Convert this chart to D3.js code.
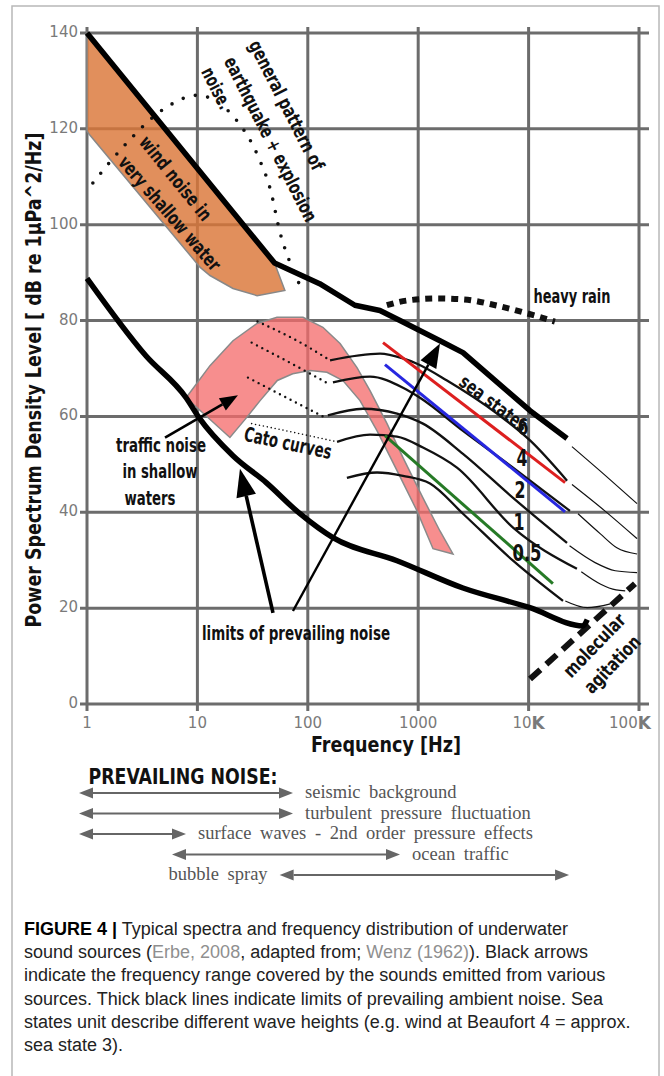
<!DOCTYPE html>
<html>
<head>
<meta charset="utf-8">
<script src="https://cdn.jsdelivr.net/npm/d3@7"></script>
<style>
body { margin: 0; background: #fff; }
svg { display: block; }
.ann { font-family: "DejaVu Sans Condensed", "DejaVu Sans", sans-serif; font-stretch: condensed; font-weight: bold; fill: #111; }
.tick { font-family: "DejaVu Sans", sans-serif; font-size: 15px; fill: #7a7a7a; }
.serif { font-family: "Liberation Serif", "DejaVu Serif", serif; font-size: 18.5px; fill: #555; word-spacing: 4px; }
.cap { font-family: "Liberation Sans", Arial, sans-serif; font-size: 18px; fill: #222; }
</style>
</head>
<body>
<svg></svg>
<script>
// frequency in Hz, level in dB re 1uPa^2/Hz
var xTicks = [1, 10, 100, 1000, 1e4, 1e5]
var xTickLabels = ["1", "10", "100", "1000", "10", "100"]
var yTicks = [0, 20, 40, 60, 80, 100, 120, 140]

// thick limits of prevailing noise
var upperLimit = [[1, 140], [50, 92], [128, 87.7], [267, 83.2], [450, 82.1], [684, 80], [1574, 75.8], [2545, 73.3], [10300, 61.2], [22300, 55.4]]
var lowerLimit = [[1, 88.8], [3.4, 72.7], [7.9, 63.9], [10.3, 59.8], [21, 51.8], [42, 46.2], [85, 39.7], [169, 34.7], [643, 29.9], [2545, 24.2], [10300, 20.1], [31100, 16.3], [34000, 17.6]]

// shaded areas
var windShallow = [[1, 140], [50, 92], [62, 86.3], [34.7, 85.2], [21, 86.7], [13, 89.4], [10.6, 91.1], [1.06, 118.7], [1, 119.5]]
var trafficShallow = [[7.9, 63.9], [13, 70.6], [21, 75.8], [34.7, 79.4], [52.6, 80.7], [90.5, 80.7], [137, 78.6], [196, 75.2], [279, 70.2], [366, 65.4], [522, 58.5], [728, 51.4], [1104, 43], [1574, 36.1], [2066, 31.3], [1362, 32.4], [975, 40.3], [643, 48.7], [424, 57], [297, 63.3], [208, 67.5], [149, 69.2], [105, 69.6], [73, 68.9], [53, 67.5], [37, 63.3], [28, 59.8], [19.7, 55.6]]

// other sources
var quakeNoise = [[1.13, 108.7], [2.12, 116.2], [5.4, 124.7], [9.9, 127], [21.9, 122.2], [36, 113.9], [46, 107.2], [56, 98.4], [69, 92.1], [88.5, 86.5]]
var heavyRain = [[520, 83.2], [800, 84.2], [1500, 84.6], [2600, 84.4], [5000, 83.2], [9700, 81.5], [17300, 79.8]]
var molecular = [[10300, 5.2], [92000, 25.1]]

// sea state curves 6, 4, 2, 1, 0.5
var seaStateLabels = ["6", "4", "2", "1", "0.5"]
var seaStates = [
  [[159, 71.7], [451, 73.1], [728, 72.1], [975, 71], [1823, 67.5], [5170, 60.6], [10300, 55], [22300, 46.6]],
  [[169, 67.1], [366, 68.3], [728, 66], [1038, 63.9], [2545, 57], [7230, 49.3], [23700, 40.3]],
  [[152, 60.2], [316, 61.6], [643, 60.6], [1104, 58.5], [2545, 52.2], [7230, 43], [22300, 33.6]],
  [[184, 54.7], [366, 56.2], [643, 55.8], [1104, 53.5], [2245, 49.3], [7230, 36.8], [27400, 28.2]],
  [[226, 47.2], [424, 48.3], [728, 47.6], [1280, 46], [2545, 39.7], [7230, 29.9], [20500, 21.5]]
]
var catoCurves = [
  [[35, 79.8], [80, 75.8], [159, 71.7]],
  [[31, 75.4], [69, 71.2], [152, 66.9]],
  [[28.7, 68.1], [62, 64.1], [137, 60]],
  [[31, 58.5], [77, 56.6], [184, 54.7]]
]
var highFreqTails = [
  [[24700, 53.7], [50000, 47.6], [96000, 41.8]],
  [[24700, 45.8], [49000, 40.3], [96000, 34.5]],
  [[28000, 39.7], [44700, 35.5], [63000, 32.6], [96000, 31.3]],
  [[23500, 33], [40000, 29.5], [61000, 27.8], [96000, 27.4]],
  [[30000, 27.6], [45000, 25], [62000, 23.8], [75000, 23.6]],
  [[21500, 21.5], [34000, 20.1], [55000, 20.9]]
]
var redLine = [[480, 75.4], [21400, 46.2]]
var blueLine = [[500, 70.8], [21400, 40.1]]
var greenLine = [[500, 56], [16600, 25.1]]

// black pointer arrows [from, to]
var pointerArrows = [
  [[5.09, 55.6], [23.3, 64.4]],
  [[48.4, 19], [24.3, 49.1]],
  [[73.4, 19.4], [1575, 75.2]]
]

// prevailing noise frequency ranges
var noiseNames = ["seismic background", "turbulent pressure fluctuation", "surface waves - 2nd order pressure effects", "ocean traffic", "bubble spray"]
var noiseRanges = [[1, 100], [1, 100], [1, 10], [7.4, 1000], [75, 38000]]

var captionLines = [
  [["FIGURE 4 |", "b"], [" Typical spectra and frequency distribution of underwater", ""]],
  [["sound sources (", ""], ["Erbe, 2008", "g"], [", adapted from; ", ""], ["Wenz (1962)", "g"], ["). Black arrows", ""]],
  [["indicate the frequency range covered by the sounds emitted from various", ""]],
  [["sources. Thick black lines indicate limits of prevailing ambient noise. Sea", ""]],
  [["states unit describe different wave heights (e.g. wind at Beaufort 4 = approx.", ""]],
  [["sea state 3).", ""]]
]

var W = 664, H = 1076
var svg = d3.select("svg").attr("width", W).attr("height", H)

var x = d3.scaleLog().domain([1, 1e5]).range([87, 639])
var y = d3.scaleLinear().domain([0, 140]).range([704, 33])
var xb = d3.scaleLog().domain([1, 1e5]).range([79, 614])
var rowY = d3.scalePoint().domain(noiseNames).range([793, 875])

var straightPath = d3.line().x(d => x(d[0])).y(d => y(d[1]))
var smoothPath = d3.line().x(d => x(d[0])).y(d => y(d[1])).curve(d3.curveMonotoneX)
var areaPath = d3.line().x(d => x(d[0])).y(d => y(d[1])).curve(d3.curveLinearClosed)

// figure frame
svg.append("rect").attr("x", 12).attr("y", 6).attr("width", 647).attr("height", 1100)
  .attr("fill", "none").attr("stroke", "#b8b8b8").attr("stroke-width", 1.5)

// grid (doubles as the axes)
var grid = svg.append("g").attr("stroke", "#6c6c6c").attr("stroke-width", 3)
grid.selectAll(".h").data(yTicks).enter().append("line")
  .attr("x1", 80).attr("x2", 649)
  .attr("y1", d => y(d)).attr("y2", d => y(d))
grid.selectAll(".v").data(xTicks).enter().append("line")
  .attr("y1", 27).attr("y2", 711)
  .attr("x1", d => x(d)).attr("x2", d => x(d))

svg.append("g").selectAll("text").data(yTicks).enter().append("text")
  .attr("class", "tick").attr("text-anchor", "end").attr("dominant-baseline", "central")
  .attr("x", 78).attr("y", d => y(d) - 1).text(d => d)

var xl = svg.append("g").selectAll("text").data(xTicks).enter().append("text")
  .attr("class", "tick").attr("text-anchor", "middle").attr("dominant-baseline", "central")
  .attr("x", d => x(d) - (d === 1e5 ? 9 : 0)).attr("y", 723)
xl.append("tspan").text((d, i) => xTickLabels[i])
xl.filter(d => d >= 1e4).append("tspan").attr("font-weight", "bold").attr("font-size", 17).text("K")

// shaded regions
svg.append("path").attr("d", areaPath(windShallow))
  .attr("fill", "#db7638").attr("fill-opacity", 0.82).attr("stroke", "#888").attr("stroke-width", 1.5)
svg.append("path").attr("d", areaPath(trafficShallow))
  .attr("fill", "#f46a6a").attr("fill-opacity", 0.76).attr("stroke", "#8a8a8a").attr("stroke-width", 1.5)

// dotted sources
svg.append("path").attr("d", smoothPath(quakeNoise)).attr("fill", "none")
  .attr("stroke", "#111").attr("stroke-width", 3.6).attr("stroke-linecap", "round").attr("stroke-dasharray", "0,12.5")
svg.append("path").attr("d", smoothPath(heavyRain)).attr("fill", "none")
  .attr("stroke", "#111").attr("stroke-width", 6).attr("stroke-dasharray", "7,6")
svg.append("path").attr("d", straightPath(molecular)).attr("fill", "none")
  .attr("stroke", "#111").attr("stroke-width", 6).attr("stroke-dasharray", "14,8")

svg.append("g").selectAll("path").data(catoCurves).enter().append("path")
  .attr("d", smoothPath).attr("fill", "none").attr("stroke", "#111")
  .attr("stroke-width", (d, i) => i < 3 ? 2.4 : 1.6).attr("stroke-linecap", "round")
  .attr("stroke-dasharray", (d, i) => i < 3 ? "0,6" : "0,4")

// sea state curves and their thin high frequency tails
svg.append("g").selectAll("path").data(seaStates).enter().append("path")
  .attr("d", smoothPath).attr("fill", "none").attr("stroke", "#111").attr("stroke-width", 2.3)
svg.append("g").selectAll("path").data(highFreqTails).enter().append("path")
  .attr("d", smoothPath).attr("fill", "none").attr("stroke", "#111").attr("stroke-width", 1.2)

svg.append("path").attr("d", straightPath(redLine)).attr("stroke", "#dd1f1f").attr("stroke-width", 3)
svg.append("path").attr("d", straightPath(blueLine)).attr("stroke", "#2727e0").attr("stroke-width", 3)
svg.append("path").attr("d", straightPath(greenLine)).attr("stroke", "#267a26").attr("stroke-width", 3)

// limits of prevailing noise
svg.append("path").attr("d", straightPath(upperLimit)).attr("fill", "none")
  .attr("stroke", "#000").attr("stroke-width", 5.5).attr("stroke-linejoin", "round")
svg.append("path").attr("d", smoothPath(lowerLimit)).attr("fill", "none")
  .attr("stroke", "#000").attr("stroke-width", 5.5).attr("stroke-linejoin", "round")

// arrows
function head(p0, p1, len, hw) {
  var dx = p1[0] - p0[0], dy = p1[1] - p0[1], l = Math.hypot(dx, dy)
  var ux = dx / l, uy = dy / l
  var bx = p1[0] - ux * len, by = p1[1] - uy * len
  return { base: [bx, by], d: "M" + p1 + "L" + [bx - uy * hw, by + ux * hw] + "L" + [bx + uy * hw, by - ux * hw] + "Z" }
}
var arrowStyle = [[2.6, 18, 7], [3.6, 28, 10], [2.4, 24, 9]]
pointerArrows.forEach(function (a, i) {
  var p0 = [x(a[0][0]), y(a[0][1])], p1 = [x(a[1][0]), y(a[1][1])]
  var h = head(p0, p1, arrowStyle[i][1], arrowStyle[i][2])
  svg.append("line").attr("x1", p0[0]).attr("y1", p0[1]).attr("x2", h.base[0]).attr("y2", h.base[1])
    .attr("stroke", "#000").attr("stroke-width", arrowStyle[i][0])
  svg.append("path").attr("d", h.d).attr("fill", "#000")
})

// annotations
function ann(t, cx, cy, rot, size, len) {
  var e = svg.append("text").attr("class", "ann")
    .attr("transform", "translate(" + cx + "," + cy + ") rotate(" + rot + ")")
    .attr("text-anchor", "middle").attr("dominant-baseline", "central")
    .attr("font-size", size).text(t)
  if (len) e.attr("textLength", len).attr("lengthAdjust", "spacingAndGlyphs")
  return e
}
ann("wind noise in", 176, 178, 51, 19, 103)
ann("very shallow water", 170, 213, 49, 19, 145)
ann("general pattern of", 287, 105, 63, 19, 143)
ann("earthquake + explosion", 271, 139, 63, 19, 182)
ann("noise.", 217, 88, 63, 19, 44)
ann("heavy rain", 572, 296, 0, 19, 77)
ann("traffic noise", 161, 445, 0, 19, 90)
ann("in shallow", 160, 471, 0, 19, 75)
ann("waters", 150, 498, 0, 19, 51)
ann("Cato curves", 288, 443, 12, 20, 89)
ann("limits of prevailing noise", 296, 633, 0, 20, 188)
ann("sea states", 494, 403, 37, 19, 80)
ann("molecular", 594, 645, -46, 19, 80)
ann("agitation", 612, 664, -46, 19, 72)
var labelPos = [[523, 427], [522, 458], [520, 490], [519, 522], [527, 553]]
seaStateLabels.forEach(function (s, i) {
  ann(s, labelPos[i][0], labelPos[i][1], 0, 23, s.length > 1 ? 29 : 11).attr("fill", "#000")
})

// axis titles
ann("Power Spectrum Density Level [ dB re 1\u00b5Pa^2/Hz]", 33, 380, -90, 22, 495).attr("fill", "#000")
ann("Frequency [Hz]", 386, 744, 0, 22, 150).attr("fill", "#000")

// prevailing noise panel
ann("PREVAILING NOISE:", 183, 776, 0, 22, 189).attr("fill", "#6b6b6b")
var rows = svg.append("g").selectAll("g").data(noiseNames).enter().append("g")
rows.each(function (name, i) {
  var g = d3.select(this), yy = rowY(name)
  var a = xb(noiseRanges[i][0]), b = xb(noiseRanges[i][1])
  var hl = head([a, yy], [b, yy], 14, 5.5), hr = head([b, yy], [a, yy], 14, 5.5)
  g.append("line").attr("x1", hr.base[0]).attr("x2", hl.base[0]).attr("y1", yy).attr("y2", yy)
    .attr("stroke", "#666").attr("stroke-width", 2.2)
  g.append("path").attr("d", hl.d).attr("fill", "#666")
  g.append("path").attr("d", hr.d).attr("fill", "#666")
  var last = i === noiseNames.length - 1
  g.append("text").attr("class", "serif").attr("dominant-baseline", "central")
    .attr("text-anchor", last ? "end" : "start")
    .attr("x", last ? a - 12 : b + 12).attr("y", yy - 1).text(name)
})

// caption
var cap = svg.append("g")
captionLines.forEach(function (parts, i) {
  var t = cap.append("text").attr("class", "cap").attr("x", 24).attr("y", 935 + i * 23.2)
  parts.forEach(function (p) {
    var s = t.append("tspan").text(p[0])
    if (p[1] === "b") s.attr("font-weight", "bold").attr("fill", "#000")
    if (p[1] === "g") s.attr("fill", "#8f8f8f")
  })
})
</script>
</body>
</html>
